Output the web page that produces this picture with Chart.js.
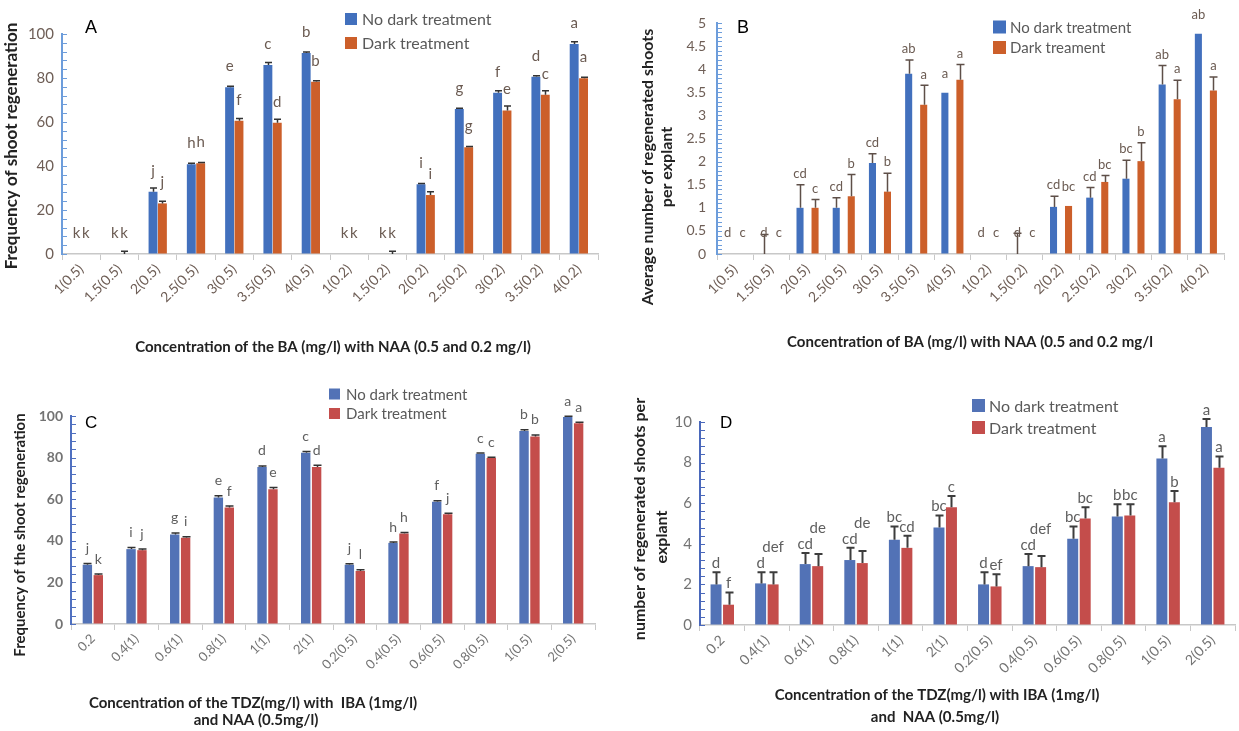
<!DOCTYPE html>
<html><head><meta charset="utf-8">
<script src="https://cdn.jsdelivr.net/npm/chart.js@4.4.0/dist/chart.umd.min.js"></script>
<style>
html,body{margin:0;padding:0;background:#fff;}
body{width:1239px;height:731px;position:relative;overflow:hidden;}
canvas{position:absolute;display:block;}
</style></head><body>
<canvas id="cA" width="620" height="365" style="left:0;top:0"></canvas>
<canvas id="cB" width="619" height="365" style="left:620px;top:0"></canvas>
<canvas id="cC" width="620" height="356" style="left:0;top:375px"></canvas>
<canvas id="cD" width="619" height="356" style="left:620px;top:375px"></canvas>
<script>
// ---------- DATA ----------
const catBA = ['1(0.5)','1.5(0.5)','2(0.5)','2.5(0.5)','3(0.5)','3.5(0.5)','4(0.5)','1(0.2)','1.5(0.2)','2(0.2)','2.5(0.2)','3(0.2)','3.5(0.2)','4(0.2)'];
const catTDZ = ['0.2','0.4(1)','0.6(1)','0.8(1)','1(1)','2(1)','0.2(0.5)','0.4(0.5)','0.6(0.5)','0.8(0.5)','1(0.5)','2(0.5)'];

// Panel A: frequency of shoot regeneration (%)
const noDarkA = [0,0,28.3,40.8,75.8,85.9,91.4,0,0,31.7,65.9,73.3,80.6,95.5];
const darkA   = [0,0,23,41.2,60.6,59.7,78.3,0,0,26.8,48.5,65.2,72.4,79.9];
const errNoDarkA = [0,0,1.7,0.4,0.4,1.2,0.4,0,0,0.4,0.4,0.9,0.4,1];
const errDarkA   = [0,1.2,1,0.4,1,1.5,0.4,0,1.2,1.5,0.4,2.1,1.8,0.4];
const letNoDarkA = ['k','k','j','h','e','c','b','k','k','i','g','f','d','a'];
const letDarkA   = ['k','k','j','h','f','d','b','k','k','i','g','e','c','a'];

// Panel B: average number of regenerated shoots per explant
const noDarkB = [0,0,1.0,1.0,1.97,3.9,3.49,0,0,1.02,1.22,1.63,3.67,4.77];
const darkB   = [0,0,1.0,1.25,1.35,3.23,3.77,0,0,1.04,1.56,2.01,3.35,3.54];
const errNoDarkB = [0,0.42,0.5,0.22,0.2,0.3,0,0,0.45,0.23,0.22,0.4,0.41,0];
const errDarkB   = [0,0,0.18,0.47,0.4,0.42,0.33,0,0,0,0.14,0.4,0.41,0.29];
const letNoDarkB = ['d','d','cd','cd','cd','ab','a','d','d','cd','cd','bc','ab','ab'];
const letDarkB   = ['c','c','c','b','b','a','a','c','c','bc','bc','b','a','a'];

// Panel C: frequency of the shoot regeneration (%)
const noDarkC = [28.5,36,43,60.8,75.5,82.3,28.5,39,58.8,81.8,92.8,99.5];
const darkC   = [23.5,35.5,41.5,56,64.8,75.5,25.5,43.5,52.8,79.8,90.2,96.5];
const errNoDarkC = [0.6,0.8,0.8,0.8,0.5,0.6,0.5,0.4,0.4,0.4,0.6,0.4];
const errDarkC   = [0.5,0.5,0.4,0.7,0.8,0.8,0.6,0.5,0.4,0.4,0.7,0.5];
const letNoDarkC = ['j','i','g','e','d','c','j','h','f','c','b','a'];
const letDarkC   = ['k','j','i','f','e','d','l','h','j','c','b','a'];

// Panel D: number of regenerated shoots per explant
const noDarkD = [2.0,2.05,3.0,3.2,4.2,4.8,2.0,2.9,4.25,5.35,8.2,9.75];
const darkD   = [1.0,2.0,2.9,3.05,3.8,5.8,1.9,2.85,5.25,5.4,6.05,7.75];
const errNoDarkD = [0.6,0.55,0.55,0.6,0.65,0.6,0.6,0.6,0.6,0.6,0.6,0.4];
const errDarkD   = [0.6,0.6,0.6,0.6,0.6,0.55,0.6,0.55,0.55,0.55,0.55,0.55];
const letNoDarkD = ['d','d','cd','cd','bc','bc','d','cd','bc','b','a','a'];
const letDarkD   = ['f','def','de','de','cd','c','ef','def','bc','bc','b','a'];

// ---------- DRAWING ----------
const FONT = 'Lato, "Open Sans", sans-serif';

function decor(P){
  return {
    id:'decor'+P.key,
    afterDatasetsDraw(chart){
      const ctx=chart.ctx, ys=chart.scales.y, ca=chart.chartArea;
      ctx.save();
      ctx.strokeStyle=P.axisColor; ctx.lineWidth=1;
      const n=Math.round((P.yMax-P.yMin)/P.minor);
      for(let k=0;k<=n;k++){
        const py=Math.round(ys.getPixelForValue(P.yMin+k*P.minor))+0.5;
        ctx.beginPath(); ctx.moveTo(ca.left,py); ctx.lineTo(ca.left+P.minorLen,py); ctx.stroke();
      }
      const axisPx=ys.getPixelForValue(0);
      const errs=[P.e1,P.e2], lets=[P.l1,P.l2], vals=[P.s1,P.s2];
      ctx.strokeStyle=P.errColor; ctx.lineWidth=P.errW;
      const pos=[[],[]];
      for(let d=0;d<2;d++){
        const meta=chart.getDatasetMeta(d);
        meta.data.forEach((el,i)=>{
          const v=vals[d][i], e=errs[d][i];
          const top=ys.getPixelForValue(v), et=ys.getPixelForValue(v+e);
          if(e>0){
            const x=Math.round(el.x)+0.5;
            ctx.beginPath(); ctx.moveTo(x,top); ctx.lineTo(x,et);
            ctx.moveTo(x-P.cap,et); ctx.lineTo(x+P.cap,et); ctx.stroke();
          }
          pos[d][i]={x:el.x,y:P.rule(v,e,top,et,axisPx)};
        });
      }
      ctx.font=P.letFont; ctx.fillStyle=P.letColor; ctx.textAlign='center'; ctx.textBaseline='middle';
      for(let i=0;i<P.s1.length;i++){
        const a=pos[0][i], b=pos[1][i];
        if(P.avoid){
          const wa=ctx.measureText(lets[0][i]).width, wb=ctx.measureText(lets[1][i]).width;
          if(a.x+wa/2 > b.x-wb/2+0.5 && Math.abs(a.y-b.y)<8){ b.y=Math.min(b.y,a.y-16); }
        }
        ctx.fillText(lets[0][i],a.x,a.y);
        ctx.fillText(lets[1][i],b.x,b.y);
      }
      ctx.restore();
    },
    afterDraw(chart){
      const ctx=chart.ctx;
      ctx.save();
      ctx.textAlign='left'; ctx.textBaseline='middle';
      ctx.font=P.legFont;
      [P.c1,P.c2].forEach((c,k)=>{
        const L=P.legend;
        ctx.fillStyle=c; ctx.fillRect(L.x,L.y[k]-L.s/2,L.s,L.s);
        ctx.fillStyle='#595959'; ctx.fillText(P.leg[k],L.tx,L.y[k]+1);
      });
      ctx.fillStyle='#000'; ctx.font=P.pan.font; ctx.textBaseline='alphabetic';
      ctx.fillText(P.pan.t,P.pan.x,P.pan.y);
      ctx.fillStyle='#222'; ctx.font=P.titleFont; ctx.textAlign='center'; ctx.textBaseline='middle';
      P.xt.forEach(t=>ctx.fillText(t.t,t.x,t.y));
      ctx.font=P.yTitleFont;
      if(P.yClip!==undefined){ ctx.beginPath(); ctx.rect(0,P.yClip,60,400); ctx.clip(); }
      P.yt.forEach(t=>{ ctx.save(); ctx.translate(t.x,t.y); ctx.rotate(-Math.PI/2); ctx.fillText(t.t,0,0); ctx.restore(); });
      ctx.restore();
    }
  };
}

function makeChart(id,P){
  const cv=document.getElementById(id);
  return new Chart(cv,{
    type:'bar',
    data:{labels:P.labels,datasets:[
      {label:P.leg[0],data:P.s1,backgroundColor:P.c1,barPercentage:P.bp,categoryPercentage:P.cp},
      {label:P.leg[1],data:P.s2,backgroundColor:P.c2,barPercentage:P.bp,categoryPercentage:P.cp}]},
    options:{
      responsive:false,animation:false,devicePixelRatio:1,
      layout:{padding:{left:0,top:P.area.t,right:P.W-P.area.r,bottom:0}},
      plugins:{legend:{display:false},tooltip:{enabled:false},title:{display:false}},
      scales:{
        x:{offset:true,
           grid:{offset:true,drawOnChartArea:false,drawTicks:true,tickLength:6,color:'#c8c8c8'},
           border:{color:'#c8c8c8',width:1.5},
           ticks:{maxRotation:45,minRotation:45,autoSkip:false,padding:1,color:P.tickColor,font:{family:FONT,size:P.xFont}},
           afterFit(s){s.height=P.H-P.area.b;s.paddingLeft=0;s.paddingRight=0;}},
        y:{min:P.yMin,max:P.yMax,
           ticks:{stepSize:P.step,padding:P.yPad,color:P.tickColor,font:{family:FONT,size:P.yFont,weight:P.yWeight},
                  callback:(v)=>String(Math.round(v*100)/100)},
           grid:{drawOnChartArea:false,drawTicks:false},
           border:{color:P.axisColor,width:2},
           afterFit(s){s.width=P.area.l;s.paddingTop=0;s.paddingBottom=0;}}
      }
    },
    plugins:[decor(P)]
  });
}

const blueA='#4270bd', orangeA='#cc5f2a';
const blueC='#5272b6', redC='#c44d4b';

makeChart('cA',{key:'A',W:620,H:365,area:{l:62,t:34,r:598,b:254},
  labels:catBA,s1:noDarkA,s2:darkA,e1:errNoDarkA,e2:errDarkA,l1:letNoDarkA,l2:letDarkA,
  leg:['No dark treatment','Dark treatment'],c1:blueA,c2:orangeA,bp:0.95,cp:0.49,
  yMin:0,yMax:100,step:20,minor:4,minorLen:5,axisColor:'#6d9ddb',yPad:8,yFont:15,yWeight:'normal',xFont:14,
  tickColor:'#6e5e56',errColor:'#333',errW:1.5,cap:3.5,
  rule:(v,e,top,et,ax)=>top-21,
  letFont:'15px '+FONT,letColor:'#6b5b52',
  legFont:'16px '+FONT,legend:{x:345,s:12,y:[19,43],tx:362},
  pan:{t:'A',x:85,y:33,font:'18px "Liberation Sans", Arial, sans-serif'},
  titleFont:'bold 15px '+FONT,xt:[{t:'Concentration of the BA (mg/l) with NAA (0.5 and 0.2 mg/l)',x:333,y:347}],
  yTitleFont:'bold 17px '+FONT,yt:[{t:'Frequency of shoot regeneration',x:12,y:146}]
});

makeChart('cB',{key:'B',W:619,H:365,area:{l:97,t:23,r:604,b:254},
  labels:catBA,s1:noDarkB,s2:darkB,e1:errNoDarkB,e2:errDarkB,l1:letNoDarkB,l2:letDarkB,
  leg:['No dark treatment','Dark treament'],c1:blueA,c2:orangeA,bp:0.47,cp:0.83,
  yMin:0,yMax:5,step:0.5,minor:0.1,minorLen:5,axisColor:'#6d9ddb',yPad:11,yFont:14,yWeight:'normal',xFont:14,
  tickColor:'#6e5e56',errColor:'#5e4f48',errW:1.5,cap:4,
  rule:(v,e,top,et,ax)=> v===0 ? ax-21 : (e>0.05 ? et-11 : top-19),
  letFont:'13px '+FONT,letColor:'#6b5b52',
  legFont:'15px '+FONT,legend:{x:373,s:13,y:[27,47.5],tx:390},
  pan:{t:'B',x:117,y:33,font:'18px "Liberation Sans", Arial, sans-serif'},
  titleFont:'bold 15px '+FONT,xt:[{t:'Concentration of BA (mg/l) with NAA (0.5 and 0.2 mg/l',x:350,y:342}],
  yTitleFont:'bold 16px '+FONT,yt:[{t:'Average number of regenerated shoots',x:28,y:167},{t:'per explant',x:47,y:167}]
});

makeChart('cC',{key:'C',W:620,H:356,area:{l:71,t:41,r:595,b:249},
  labels:catTDZ,s1:noDarkC,s2:darkC,e1:errNoDarkC,e2:errDarkC,l1:letNoDarkC,l2:letDarkC,
  leg:['No dark treatment','Dark treatment'],c1:blueC,c2:redC,bp:0.86,cp:0.5,
  yMin:0,yMax:100,step:20,minor:4,minorLen:5,axisColor:'#4f70c0',yPad:8,yFont:14,yWeight:'bold',xFont:13,
  tickColor:'#737373',errColor:'#333',errW:1.5,cap:4,
  rule:(v,e,top,et,ax)=>et-15,
  letFont:'14px '+FONT,letColor:'#5f5f5f',
  legFont:'15px '+FONT,legend:{x:329,s:11,y:[19,38.5],tx:346},
  pan:{t:'C',x:85,y:53,font:'17px "Liberation Sans", Arial, sans-serif'},
  titleFont:'bold 15px '+FONT,xt:[{t:'Concentration of the TDZ(mg/l) with  IBA (1mg/l)',x:253,y:328},{t:'and NAA (0.5mg/l)',x:256,y:345}],
  yTitleFont:'bold 15px '+FONT,yt:[{t:'Frequency of the shoot regeneration',x:20,y:160}],yClip:29
});

makeChart('cD',{key:'D',W:619,H:356,area:{l:80,t:47,r:615,b:250},
  labels:catTDZ,s1:noDarkD,s2:darkD,e1:errNoDarkD,e2:errDarkD,l1:letNoDarkD,l2:letDarkD,
  leg:['No dark treatment','Dark treatment'],c1:blueC,c2:redC,bp:0.88,cp:0.56,
  yMin:0,yMax:10,step:2,minor:0.4,minorLen:5,axisColor:'#4a68bb',yPad:8,yFont:15,yWeight:'normal',xFont:14,
  tickColor:'#737373',errColor:'#3d3d3d',errW:2,cap:4,
  rule:(v,e,top,et,ax)=>et-9, avoid:true,
  letFont:'15px '+FONT,letColor:'#5f5f5f',
  legFont:'16px '+FONT,legend:{x:352,s:13,y:[30.5,52.5],tx:369},
  pan:{t:'D',x:100,y:53,font:'17px "Liberation Sans", Arial, sans-serif'},
  titleFont:'bold 15px '+FONT,xt:[{t:'Concentration of the TDZ(mg/l) with IBA (1mg/l)',x:317,y:320},{t:'and  NAA (0.5mg/l)',x:315,y:342}],
  yTitleFont:'bold 16px '+FONT,yt:[{t:'number of regenerated shoots per',x:20,y:144},{t:'explant',x:42,y:162}]
});
</script>
</body></html>
